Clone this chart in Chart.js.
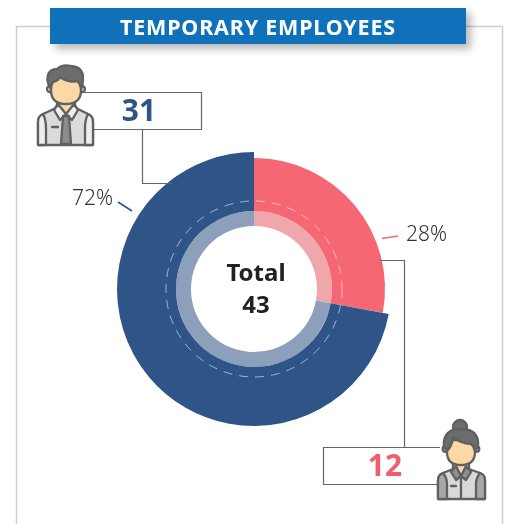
<!DOCTYPE html>
<html><head><meta charset="utf-8">
<style>
html,body{margin:0;padding:0;background:#fff;overflow:hidden}
#wrap{position:relative;width:512px;height:524px;font-family:"Noto Sans",sans-serif}
canvas{position:absolute;left:0;top:0}
svg{position:absolute;left:0;top:0}
.t{position:absolute;white-space:nowrap;text-align:center;line-height:1}
#bar{position:absolute;left:50px;top:8px;width:416px;height:36px;background:#0f71b9;color:#fff;font-weight:700;font-size:21.500px;line-height:37px;text-align:center;letter-spacing:.8px;box-shadow:5px 5px 8px rgba(0,0,0,.28)}
</style>
<script src="https://cdn.jsdelivr.net/npm/chart.js@4"></script>
</head><body>
<div id="wrap">
<svg width="512" height="524" id="back">
<path d="M50 26.5H16.5V524M466 26.5H502.5V524" fill="none" stroke="#cfcfcf" stroke-width="1.5"/>
</svg>
<canvas id="c" width="512" height="524"></canvas>
<svg width="512" height="524" id="front">
<g fill="none" stroke="#666" stroke-width="1.2">
<path d="M84 92.5H201.5V129.5H84"/>
<path d="M142.5 130V183.5H172"/>
<path d="M380 260.5H404.5V447"/>
<path d="M440 447.5H323.5V484.5H440"/>
</g>
<path d="M118 202L132 211" stroke="#2f5488" stroke-width="1.6"/>
<path d="M382 238.5L398 236" stroke="#f56772" stroke-width="1.6"/>
<!-- man -->
<g stroke="#5f6062" stroke-width="2.3" stroke-linejoin="round" stroke-linecap="round">
<path d="M38 145V122Q38 116 43 114L56 108L66 117L76 108L88 114Q93 116 93 122V145Z" fill="#dbdadc"/>
<path d="M38 145V122Q38 116 43 114Q46 120 46 128V145ZM93 145V122Q93 116 88 114Q85 120 85 128V145Z" fill="#eeeeef"/>
<path d="M57 98H75V110L66 117L57 110Z" fill="#fcd9a4"/>
<path d="M54 110L58 104L66 114L60 120ZM78 110L74 104L66 114L72 120Z" fill="#eeeeef"/>
<path d="M63 116H69L71 144H61Z" fill="#8b8c8e"/>
<path d="M52 127H58" fill="none"/>
<circle cx="50" cy="89" r="3" fill="#fcd9a4"/><circle cx="82" cy="89" r="3" fill="#fcd9a4"/>
<path d="M51 76H81V90Q81 104 66 104Q51 104 51 90Z" fill="#fcd9a4"/>
<path d="M51 89Q46 82 48 75Q50 69 57 69Q62 64 71 66Q83 67 83 78Q83 85 81 89Q80 83 77 81Q67 83 60 77Q58 81 53 82Q51 85 51 89Z" fill="#6b6c6e"/>
</g>
<!-- woman -->
<g stroke="#5f6062" stroke-width="2.3" stroke-linejoin="round" stroke-linecap="round">
<path d="M438 499V480Q438 475 443 473L453 469L461 476L469 469L480 473Q485 475 485 480V499Z" fill="#d9d8da"/>
<path d="M438 499V480Q438 475 443 473Q447 478 447 484V499ZM485 499V480Q485 475 480 473Q476 478 476 484V499Z" fill="#a6a7a9"/>
<path d="M453 460H469V470L461 476L453 470Z" fill="#fcd9a4"/>
<path d="M451 472L456 466L461 476L456 480ZM471 472L466 466L461 476L466 480Z" fill="#8e8f91"/>
<path d="M461 476V499M451 486H456" fill="none"/>
<circle cx="460" cy="427" r="7" fill="#6b6c6e"/>
<circle cx="445.500" cy="449" r="2.800" fill="#fcd9a4"/><circle cx="476.500" cy="449" r="2.800" fill="#fcd9a4"/>
<path d="M447 440H475V452Q475 465 461 465Q447 465 447 452Z" fill="#fcd9a4"/>
<path d="M447 451Q443 447 444 441Q446 429 461 429Q476 429 478 441Q479 447 475 451Q474 446 471 444Q461 444 453 437Q452 446 447 451Z" fill="#6b6c6e"/>
</g>
</svg>
<div id="bar">TEMPORARY EMPLOYEES</div>
<div class="t" id="v1" style="left:84px;width:110px;top:95px;font-size:30px;font-weight:700;color:#2f5488">31</div>
<div class="t" id="v2" style="left:330px;width:110px;top:450px;font-size:30px;font-weight:700;color:#f25c6c">12</div>
<div class="t" id="p1" style="left:72px;top:187px;font-size:21px;font-weight:300;color:#333">72%</div>
<div class="t" id="p2" style="left:406px;top:223px;font-size:21px;font-weight:300;color:#333">28%</div>
<div class="t" style="left:204px;width:104px;top:256px;font-size:24px;font-weight:700;color:#222;line-height:32px">Total<br><span id="tot">43</span></div>
</div>
<script>
const categories = ["Female", "Male"];
const counts = [12, 31];
const total = 43;
const pink = "#f56772", blue = "#2f5488";
const femaleInset = 6;
const shapeRing = {
  id: "shapeRing",
  afterDatasetsUpdate(chart) {
    chart.getDatasetMeta(0).data[0].outerRadius -= femaleInset;
  },
  afterDatasetsDraw(chart) {
    const arc = chart.getDatasetMeta(1).data[0];
    const ctx = chart.ctx;
    ctx.save();
    ctx.beginPath();
    ctx.arc(arc.x, arc.y, arc.outerRadius + 10, 0, Math.PI * 2);
    ctx.setLineDash([9, 7]);
    ctx.lineWidth = 0.9;
    ctx.strokeStyle = "rgba(255,255,255,.62)";
    ctx.stroke();
    ctx.restore();
  }
};
new Chart(document.getElementById("c"), {
  type: "doughnut",
  data: {
    labels: categories,
    datasets: [
      { data: counts, backgroundColor: [pink, blue], borderWidth: 0, weight: 59 },
      { data: counts, backgroundColor: ["#efa7ac", "#8c9fbb"], borderWidth: 0, weight: 15 }
    ]
  },
  options: {
    responsive: false,
    animation: false,
    cutout: 63,
    layout: { padding: { left: 117, right: 121, top: 152, bottom: 98 } },
    plugins: { legend: { display: false }, tooltip: { enabled: false } }
  },
  plugins: [shapeRing]
});
</script>
</body></html>
